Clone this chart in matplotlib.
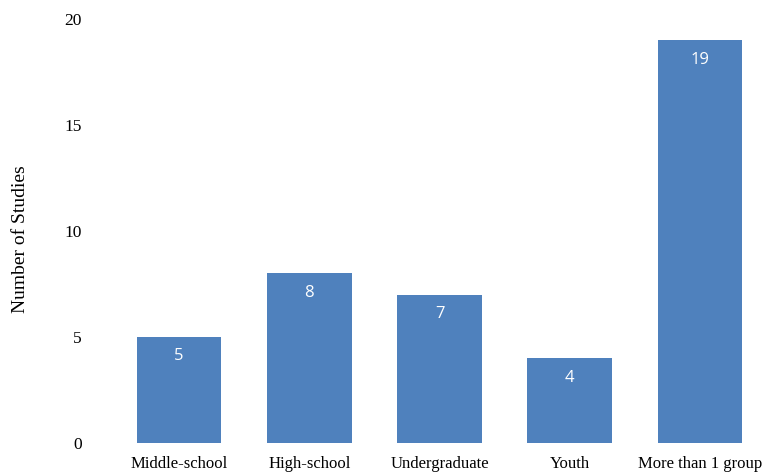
import matplotlib.pyplot as plt

# study counts per participant group
groups = ['Middle-school', 'High-school', 'Undergraduate', 'Youth', 'More than 1 group']
n_studies = [5, 8, 7, 4, 19]
y_ticks = [0, 5, 10, 15, 20]

bar_color = '#4F81BD'

fig = plt.figure(figsize=(7.63, 4.73), dpi=100)
ax = fig.add_axes([114 / 763, 1 - 443 / 473, 651 / 763, (443 - 19) / 473])

x = range(len(groups))
bars = ax.bar(x, n_studies, width=0.65, color=bar_color, edgecolor='none')

# white value labels just inside each bar top
for rect, val in zip(bars, n_studies):
    ax.annotate(str(val), (rect.get_x() + rect.get_width() / 2, rect.get_height()),
                xytext=(0, -14), textcoords='offset points', ha='center', va='center',
                color='white', fontsize=12, family='Open Sans')

ax.set_xlim(-0.5, len(groups) - 0.5)
ax.set_ylim(0, 20)
ax.set_yticks(y_ticks)
ax.set_xticks(list(x))
ax.set_xticklabels(groups, family='Liberation Serif', fontsize=12)
ax.set_yticklabels([str(t) for t in y_ticks], family='Liberation Serif', fontsize=12.5)
ax.tick_params(length=0)
ax.tick_params(axis='y', pad=23)
ax.tick_params(axis='x', pad=9)
ax.set_ylabel('Number of Studies', family='Liberation Serif', fontsize=14)
ax.yaxis.set_label_coords(-0.131, 0.48)

for s in ax.spines.values():
    s.set_visible(False)

fig.savefig('out.png', dpi=100)
